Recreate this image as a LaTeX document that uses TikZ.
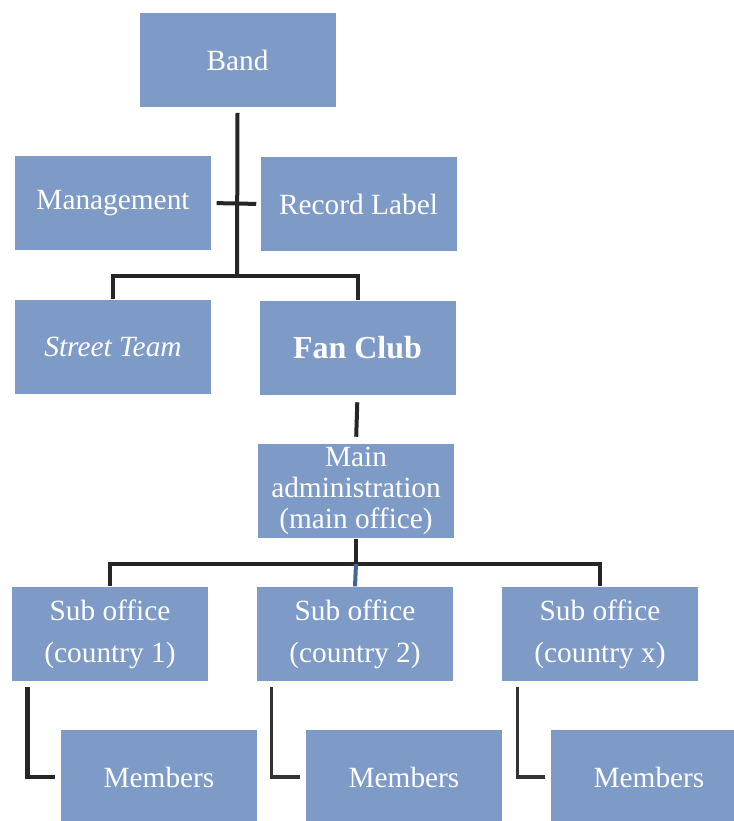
\documentclass[tikz,border=0pt]{standalone}
\usepackage{fontspec}
\setmainfont{Liberation Serif}
\usepackage{tikz}
\usetikzlibrary{shapes}
\usetikzlibrary{arrows}
\definecolor{boxblue}{RGB}{126,155,199}
\definecolor{linkblue}{RGB}{70,100,150}

\begin{document}
\begin{tikzpicture}[x=0.75pt,y=-0.75pt,
  box/.style={fill=boxblue,minimum width=147pt,minimum height=71pt,inner sep=2pt,
    text=white,align=center,font=\fontsize{22}{23.5}\selectfont},
  link/.style={line width=3pt,draw=black!85}]
\useasboundingbox (0,0) rectangle (734,821);
\node[box] (band) at (237.5,60) {Band};
\node[box] (mgmt) at (113,203) {Management};
\node[box] (label) at (358.5,204) {Record Label};
\node[box] (street) at (113,347) {\itshape Street Team};
\node[box] (fan) at (357.5,348) {\fontsize{24}{26}\selectfont\bfseries Fan Club};
\node[box] (main) at (356,491) {Main\\administration\\(main office)};
\node[box] (sub1) at (110,634) {Sub office\\[8pt](country 1)};
\node[box] (sub2) at (355,634) {Sub office\\[8pt](country 2)};
\node[box] (sub3) at (600,634) {Sub office\\[8pt](country x)};
\node[box] (mem1) at (159,777) {Members};
\node[box] (mem2) at (404,777) {Members};
\node[box] (mem3) at (649,777) {Members};
\coordinate (bus1) at (237,276);
\coordinate (bus2) at (356,564);
% top part
\draw[link] ([yshift=-4pt]band.south) -- (bus1);
\draw[link,shorten <=4pt,shorten >=3pt] (mgmt.east) -- (label.west);
\draw[link] (street.north) |- (bus1) -| (fan.north);
\draw[link,shorten <=5pt,shorten >=5pt] (fan.south) -- (main.north);
% sub offices
\draw[link] (main.south) -- (bus2);
\draw[link] (sub1.north) |- (bus2) -| (sub3.north);
\draw[line width=3pt,draw=linkblue] (bus2) -- (sub2.north);
\draw[line width=3.5pt,draw=black!85,shorten >=4pt] ([xshift=12pt,yshift=-4pt]sub1.south west) |- (mem1.west);
\draw[line width=2.5pt,draw=black!80,shorten >=4pt] ([xshift=11pt,yshift=-4pt]sub2.south west) |- (mem2.west);
\draw[line width=2.5pt,draw=black!80,shorten >=4pt] ([xshift=12pt,yshift=-4pt]sub3.south west) |- (mem3.west);
\end{tikzpicture}
\end{document}
